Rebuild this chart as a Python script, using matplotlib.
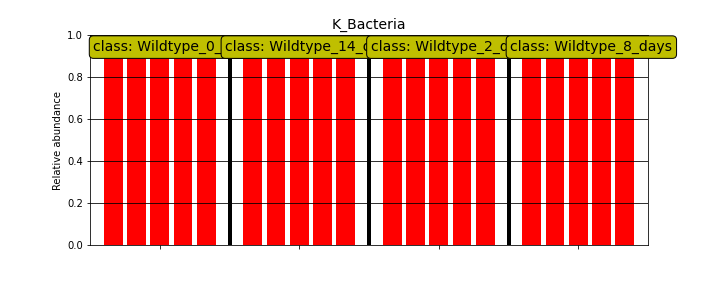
import matplotlib
matplotlib.use('Agg')
import matplotlib.pyplot as plt

feature = 'K_Bacteria'
classes = ['Wildtype_0_days', 'Wildtype_14_days', 'Wildtype_2_days', 'Wildtype_8_days']
# relative abundance per sample, 5 samples per class
abund_0 = [1.0, 1.0, 1.0, 1.0, 1.0]
abund_14 = [1.0, 1.0, 1.0, 1.0, 1.0]
abund_2 = [1.0, 1.0, 1.0, 1.0, 1.0]
abund_8 = [1.0, 1.0, 1.0, 1.0, 1.0]
values = [abund_0, abund_14, abund_2, abund_8]
# where each class label starts, relative to the first bar of its group
label_offset = [-0.85, -1.18, -0.92, -0.92]

fig = plt.figure(figsize=(10, 4), dpi=72)
ax = fig.add_axes([0.125, 0.149, 0.775, 0.729])

pos = 0
ticks = []
label_x = []
for i, vals in enumerate(values):
	xs = list(range(pos, pos + len(vals)))
	ax.bar(xs, vals, width=0.8, color='r', zorder=1)
	ticks.append(pos + (len(vals) - 1) / 2.0)
	label_x.append(pos + label_offset[i])
	pos += len(vals)
	if i < len(values) - 1:
		ax.axvline(pos, color='k', lw=4, zorder=1)
		pos += 1

ax.set_xlim(-1, pos)
ax.set_ylim(0, 1.0)
ax.set_xticks(ticks)
ax.set_xticklabels([])
ax.yaxis.grid(True, color='k', lw=0.8, zorder=2)
ax.set_axisbelow(False)
ax.set_ylabel('Relative abundance')
ax.set_title(feature, fontsize=14)

for x, cl in zip(label_x, classes):
	ax.text(x, 0.943, 'class: ' + cl, fontsize=14, ha='left', va='center',
			bbox=dict(boxstyle='round', facecolor='y', edgecolor='k', alpha=1.0), zorder=5)

fig.savefig('out.png', dpi=72)
